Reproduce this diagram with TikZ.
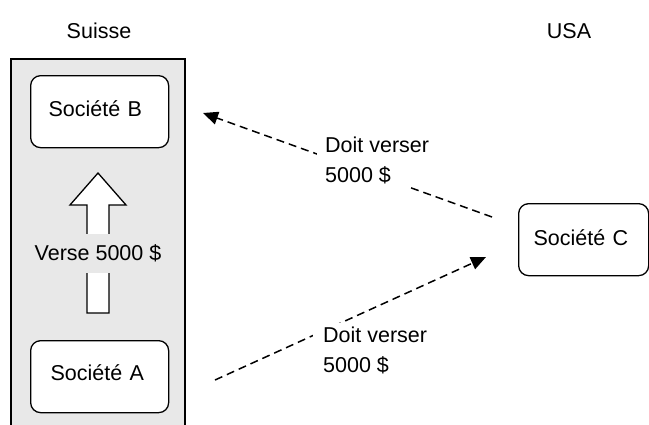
\documentclass[tikz,border=0pt]{standalone}
\usepackage{fontspec}
\setmainfont{Liberation Sans}
\usetikzlibrary{arrows.meta}
\definecolor{zonegray}{RGB}{232,232,232}
\newcommand{\lift}[2]{\raisebox{#1}[\height][\depth]{#2}}
\begin{document}
\begin{tikzpicture}[x=1pt,y=-1pt,
  every node/.style={font=\fontsize{21.5}{30}\selectfont},
  firm/.style={draw, line width=1.3pt, fill=white, rounded corners=10pt,
    minimum height=72pt, align=left, inner ysep=0pt},
  owes/.style={line width=1.5pt, dash pattern=on 8pt off 5pt,
    -{Triangle[length=15pt,width=13pt]}},
  owelabel/.style={fill=white, align=left, inner ysep=3pt}
]
\useasboundingbox (0,0) rectangle (649,424);

% country headings
\node (ch) at (99,31) {Suisse};
\node (us) at (569,31) {USA};

% Swiss zone
\draw[line width=1.5pt, fill=zonegray] (11,440) -- (11,59) -- (185,59) -- (185,440);

% companies
\node[firm, anchor=north west, text width=102pt, inner xsep=18pt] (sb) at (30,75) {\lift{3pt}{Société B}};
\node[firm, anchor=north west, text width=98pt, inner xsep=20pt] (sa) at (30,340) {\lift{4pt}{Société A}};
\node[firm, anchor=north west, text width=100pt, inner xsep=15pt] (sc) at (518,203) {\lift{2pt}{Société C}};

% internal payment A -> B (block arrow)
\draw[line width=1.3pt, fill=white]
  (87,313) -- (87,205) -- (70,205) -- (98,173) -- (126,205) -- (109,205) -- (109,313) -- cycle;
\node[fill=zonegray, minimum height=39pt, inner xsep=2pt] (pay) at (98,253) {Verse 5000 \$};

% obligations towards / from C
\coordinate (cout) at (492,217);
\coordinate (bin) at (203,113);
\coordinate (aout) at (215,380);
\coordinate (cin) at (486,257);
\draw[owes] (cout) -- (bin);
\draw[owes] (aout) -- (cin);
\node[owelabel, anchor=west, inner xsep=8pt] (owe1) at (317,160) {Doit verser\\5000 \$};
\node[owelabel, anchor=west, inner xsep=10pt] (owe2) at (313,350) {Doit verser\\5000 \$};
\end{tikzpicture}
\end{document}
